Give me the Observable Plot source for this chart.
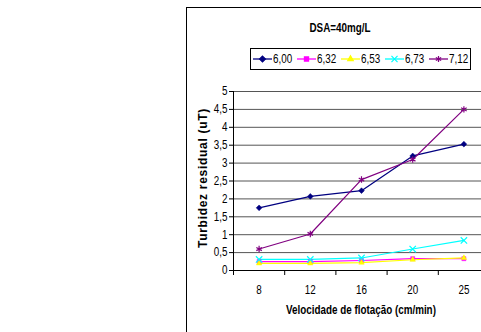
<!DOCTYPE html>
<html><head><meta charset="utf-8">
<script src="https://cdn.jsdelivr.net/npm/d3@7"></script>
<script src="https://cdn.jsdelivr.net/npm/@observablehq/plot@0.6"></script>
<style>
html,body{margin:0;padding:0;background:#fff;}
#wrap{position:relative;width:481px;height:332px;overflow:hidden;background:#fff;font-family:"Liberation Sans",Arial,sans-serif;color:#000;}
#frame{position:absolute;left:186px;top:7px;width:320px;height:340px;border:1px solid #000;box-sizing:border-box;}
.abs{position:absolute;white-space:nowrap;}
#title{left:340px;top:28px;transform:translate(-50%,-50%) scaleX(0.82);font-weight:bold;font-size:12px;}
#xtitle{left:361px;top:310px;transform:translate(-50%,-50%) scaleX(0.82);font-weight:bold;font-size:12px;}
#ytitle{left:203px;top:178px;transform:translate(-50%,-50%) rotate(-90deg);font-weight:bold;font-size:12px;letter-spacing:0.7px;}
#legend{left:250px;top:48px;width:221px;height:22px;border:1px solid #000;box-sizing:border-box;display:flex;align-items:center;padding-left:2px;font-size:12px;}
#legend .it{display:flex;align-items:center;width:44px;flex:none;}
#legend .it span{display:inline-block;transform:scaleX(0.82);transform-origin:0 50%;}
#legend svg{display:block;margin-right:1px;flex:none;}
#chart{position:absolute;left:0;top:0;}
#chart svg{max-width:none !important;}
</style></head>
<body>
<div id="wrap">
  <div id="frame"></div>
  <div id="chart"></div>
  <div id="title" class="abs">DSA=40mg/L</div>
  <div id="legend" class="abs"></div>
  <div id="ytitle" class="abs">Turbidez residual (uT)</div>
  <div id="xtitle" class="abs">Velocidade de flotação (cm/min)</div>
</div>
<script>
// Data
const velocities = ["8", "12", "16", "20", "25"];
const seriesNames = ["6,00", "6,32", "6,53", "6,73", "7,12"];
const seriesColors = ["#000080", "#FF00FF", "#FFFF00", "#00FFFF", "#800080"];
const seriesSymbols = ["diamond2", "square2", "triangle2", "times", "asterisk"];
const s600 = [1.75, 2.07, 2.23, 3.2, 3.53];
const s632 = [0.25, 0.25, 0.28, 0.33, 0.33];
const s653 = [0.2, 0.2, 0.22, 0.3, 0.35];
const s673 = [0.31, 0.31, 0.35, 0.6, 0.84];
const s712 = [0.6, 1.02, 2.54, 3.1, 4.5];
const yTicks = [0, 0.5, 1, 1.5, 2, 2.5, 3, 3.5, 4, 4.5, 5];

const seriesValues = [s600, s632, s653, s673, s712];
const rows = [];
seriesNames.forEach((name, si) => {
  seriesValues[si].forEach((v, i) => rows.push({series: name, xi: i, y: v}));
});
const idx = velocities.map((_, i) => i);
const bounds = d3.range(-0.5, velocities.length, 1);
const comma = d => String(d).replace(".", ",");
const filled = new Set(["diamond2", "square2", "triangle2"]);
const isFilled = d => filled.has(seriesSymbols[seriesNames.indexOf(d.series)]);

const plot = Plot.plot({
  width: 520, height: 332,
  marginLeft: 233, marginRight: 31, marginTop: 91, marginBottom: 62,
  style: {fontFamily: '"Liberation Sans",Arial,sans-serif', fontSize: "12px", background: "transparent", color: "#000", maxWidth: "none"},
  x: {type: "linear", domain: [-0.5, velocities.length - 0.5], axis: null},
  y: {domain: [0, 5], axis: null},
  color: {domain: seriesNames, range: seriesColors},
  symbol: {domain: seriesNames, range: seriesSymbols},
  marks: [
    Plot.gridY(yTicks.filter(d => d > 0), {stroke: "#555", strokeOpacity: 1, strokeWidth: 1}),
    Plot.ruleY([0], {stroke: "#000"}),
    Plot.ruleX([-0.5], {stroke: "#000"}),
    Plot.axisY(yTicks, {tickSize: 4, tickPadding: 2, tickFormat: comma, fontSize: 12, stroke: "#000", label: null}),
    Plot.axisX(bounds, {tickSize: 5, tickFormat: () => "", stroke: "#000", label: null}),
    Plot.axisX(idx, {tickSize: 0, tickPadding: 15, tickFormat: i => velocities[i], fontSize: 12, label: null}),
    Plot.line(rows, {x: "xi", y: "y", z: "series", stroke: "series", strokeWidth: 1.2}),
    Plot.dot(rows.filter(isFilled), {x: "xi", y: "y", symbol: "series", fill: "series", stroke: "series", strokeWidth: 0.5, r: 2.6}),
    Plot.dot(rows.filter(d => !isFilled(d)), {x: "xi", y: "y", symbol: "series", stroke: "series", strokeWidth: 1.2, r: 3})
  ]
});
document.getElementById("chart").appendChild(plot);
// condense text horizontally (narrow look of the original)
plot.querySelectorAll("text").forEach(t => {
  if (!t.textContent) return;
  const L = t.getComputedTextLength();
  if (L > 0) {
    t.setAttribute("textLength", (L * 0.82).toFixed(2));
    t.setAttribute("lengthAdjust", "spacingAndGlyphs");
  }
});

// Legend
const symMap = {diamond2: d3.symbolDiamond2, square2: d3.symbolSquare2, triangle2: d3.symbolTriangle2, times: d3.symbolTimes, asterisk: d3.symbolAsterisk};
const leg = document.getElementById("legend");
seriesNames.forEach((name, i) => {
  const it = document.createElement("div");
  it.className = "it";
  const sym = seriesSymbols[i];
  const path = d3.symbol(symMap[sym], filled.has(sym) ? 22 : 26)();
  const col = seriesColors[i];
  it.innerHTML = `<svg width="19" height="10"><line x1="0" x2="19" y1="5" y2="5" stroke="${col}" stroke-width="1.3"/>` +
    `<path transform="translate(9.5,5)" d="${path}" fill="${filled.has(sym) ? col : "none"}" stroke="${col}" stroke-width="1.2"/></svg><span>${name}</span>`;
  leg.appendChild(it);
});
</script>
</body></html>
